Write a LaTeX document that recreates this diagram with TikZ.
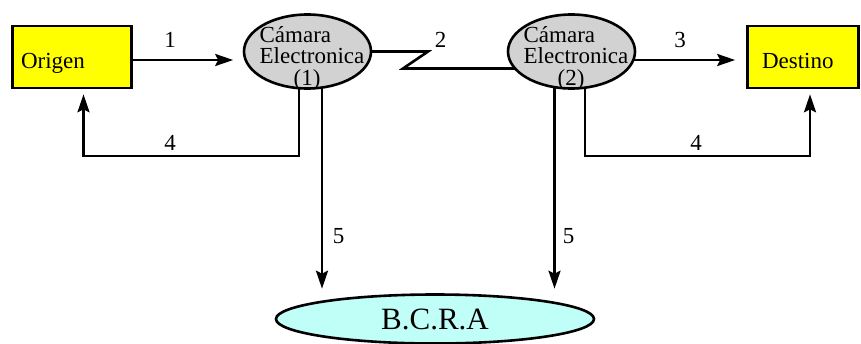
\documentclass[tikz,border=0pt]{standalone}
\usepackage{fontspec}
\setmainfont{Liberation Serif}
\usepackage{tikz}
\usetikzlibrary{arrows.meta,positioning,shapes.geometric,backgrounds,calc}
\definecolor{cajaamarilla}{RGB}{255,255,0}
\definecolor{camaragris}{RGB}{210,210,210}
\definecolor{bcracian}{RGB}{192,255,248}

\begin{document}
\begin{tikzpicture}[x=1pt, y=-1pt,
  caja/.style={draw, line width=2.6pt, fill=cajaamarilla, minimum height=62pt,
    text height=26pt, text depth=4pt, align=left, font=\fontsize{23}{23}\selectfont},
  camara/.style={ellipse, draw, line width=2.6pt, fill=camaragris,
    minimum width=127pt, minimum height=74pt, inner sep=0pt},
  camtxt/.style={inner sep=0pt, font=\fontsize{23}{18}\selectfont},
  num/.style={inner sep=0pt, font=\fontsize{23}{23}\selectfont},
  linea/.style={line width=2.6pt},
  flecha/.style={line width=2.6pt, -{Stealth[length=18pt,width=12pt,inset=3pt]}}]
\useasboundingbox (0,0) rectangle (861,343);

% cajas y camaras
\node[caja, minimum width=119pt, inner xsep=8.5pt, text width=102pt] (origen) at (72,57) {Origen};
\node[caja, minimum width=111pt, inner xsep=14.5pt, text width=82pt] (destino) at (803,57) {Destino};
\foreach \i/\x in {1/307.5, 2/571.5} {
  \node[camara] (cam\i) at (\x,51.5) {};
  \node[camtxt] (txt\i) at ([shift={(4.5,7)}]cam\i.center)
    {\begin{tabular}{@{}l@{}}Cámara\\Electronica\\\hspace*{34pt}(\i)\end{tabular}};
}
\node[ellipse, draw, line width=2.6pt, fill=bcracian, minimum width=318pt, minimum height=49pt,
  inner sep=0pt, font=\fontsize{31}{31}\selectfont] (bcra) at (435,319) {B.C.R.A};

% conexiones
\begin{scope}[on background layer]
  \draw[flecha, shorten >=9.5pt] ([yshift=-3]origen.east) -- ([yshift=-3]origen.east -| cam1.west);
  \draw[linea] (cam1.center) -- ++(120.5,0) -- ++(-25,17) coordinate (quiebre) -- (quiebre -| cam2.center);
  \draw[flecha, shorten >=11pt] ([yshift=-3]destino.west -| cam2.center) -- ([yshift=-3]destino.west);
  \draw[flecha, shorten >=5pt] ([xshift=-8.5]cam1.center) -- ++(0,104.5) -| ([xshift=11.5]origen.south);
  \draw[flecha, shorten >=5pt] ([xshift=13.5]cam2.center) -- ++(0,104.5) -| ([xshift=7]destino.south);
  \draw[flecha, shorten >=4.5pt] ([xshift=14.5]cam1.center) -- ([xshift=14.5]cam1.center |- bcra.north);
  \draw[flecha, shorten >=4.5pt] ([xshift=-17]cam2.center) -- ([xshift=-17]cam2.center |- bcra.north);
\end{scope}

% numeros
\foreach \n/\x/\y [count=\k] in {1/170/39.5, 2/440.5/39.5, 3/680/39.5, 4/170/142.5,
    4/696/142.5, 5/338.5/236.5, 5/568.5/236.5}
  \node[num] (num\k) at (\x,\y) {\n};
\end{tikzpicture}
\end{document}
